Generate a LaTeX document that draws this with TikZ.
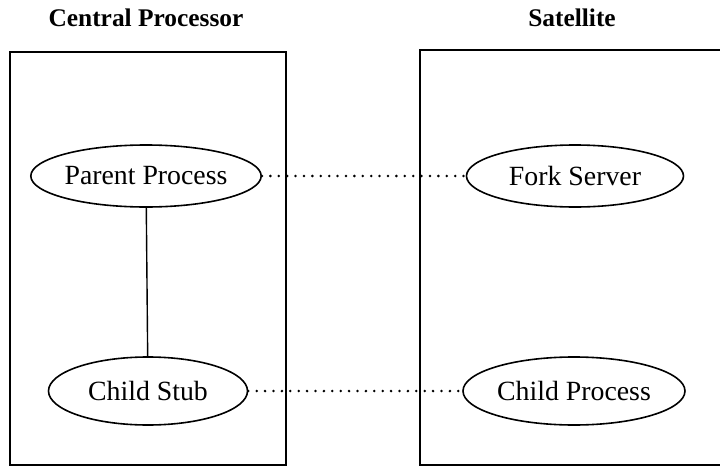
\documentclass[tikz,border=0pt]{standalone}
\usepackage{fontspec}
\setmainfont{Liberation Serif}
\usetikzlibrary{shapes.geometric}
\tikzset{
  cpu/.style={draw=black, line width=1pt},
  proc/.style={ellipse, draw=black, line width=0.8pt, inner sep=0pt,
              font=\fontsize{13.9}{16}\selectfont},
  hdr/.style={font=\fontsize{12.7}{15}\selectfont\bfseries},
  link/.style={line width=1.4pt, line cap=round, dash pattern=on 0pt off 4.2pt},
  tie/.style={line width=0.7pt},
}
\begin{document}
\begin{tikzpicture}[x=0.5pt,y=-0.5pt]
  \useasboundingbox (0,0) rectangle (720,467);
  % the two machines
  \node[hdr] (cp) at (146,18){Central Processor};
  \node[hdr] (sat) at (572,18){Satellite};
  \draw[cpu] (10,52) rectangle (286,465);
  \draw[cpu] (720,50) -- (420,50) -- (420,465) -- (720,465);
  % processes
  \node[proc,minimum width=103.5pt,minimum height=31pt] (parent) at (146,176){Parent Process};
  \node[proc,minimum width=108.5pt,minimum height=31pt] (fork) at (575,176){Fork Server};
  \node[proc,minimum width=99.5pt,minimum height=34pt] (stub) at (148,391){Child Stub};
  \node[proc,minimum width=111pt,minimum height=34pt] (child) at (574,391){Child Process};
  \draw[tie] (parent)--(stub);
  \draw[link] (parent)--(fork);\draw[link] (stub)--(child);
\end{tikzpicture}
\end{document}
